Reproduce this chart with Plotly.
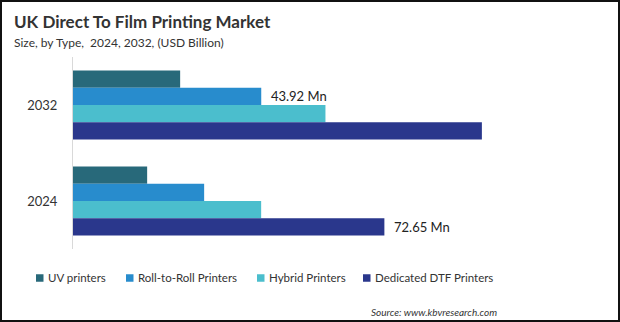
import plotly.graph_objects as go

categories = ["2032", "2024"]
series_names = ["UV printers", "Roll-to-Roll Printers", "Hybrid Printers", "Dedicated DTF Printers"]
uv_values = [25.0, 17.3]
r2r_values = [43.92, 30.6]
hybrid_values = [58.9, 43.9]
dtf_values = [95.4, 72.65]
colors = ["#28697a", "#288ccd", "#4bbecd", "#2a378c"]
# which bars carry a value label: (series index, category index)
labelled = {(1, 0), (3, 1)}

all_values = [uv_values, r2r_values, hybrid_values, dtf_values]

W, H = 620, 322
ML, MR, MT, MB = 73, 0, 57, 73
PW, PH = W - ML - MR, H - MT - MB

def px_x(p):
    return (p - ML) / PW

def px_y(p):
    return (H - MB - p) / PH

FONT = "Lato, 'Open Sans', sans-serif"

fig = go.Figure()
for i, (name, vals) in enumerate(zip(series_names, all_values)):
    texts = ["\u00a0\u00a0" + f"{v:.2f} Mn" if (i, j) in labelled else "" for j, v in enumerate(vals)]
    fig.add_trace(go.Bar(
        y=categories, x=vals, name=name, orientation="h",
        marker=dict(color=colors[i], line=dict(width=0)),
        text=texts, textposition="outside", cliponaxis=False,
        textfont=dict(family=FONT, size=13, color="#222222"),
        hoverinfo="skip", showlegend=False,
    ))

annotations = [
    dict(text="<b>UK Direct To Film Printing Market</b>", xref="paper", yref="paper",
         x=px_x(12), y=px_y(22), xanchor="left", yanchor="middle", showarrow=False,
         font=dict(family=FONT, size=17, color="#333333")),
    dict(text="Size, by Type,  2024, 2032, (USD Billion)", xref="paper", yref="paper",
         x=px_x(12), y=px_y(42), xanchor="left", yanchor="middle", showarrow=False,
         font=dict(family=FONT, size=12, color="#333333")),
    dict(text="<i>Source: www.kbvresearch.com</i>", xref="paper", yref="paper",
         x=px_x(499), y=px_y(312), xanchor="right", yanchor="middle", showarrow=False,
         font=dict(family=FONT, size=10, color="#333333")),
]
shapes = [dict(type="rect", xref="paper", yref="paper",
               x0=px_x(1), x1=px_x(W - 1), y0=px_y(H - 1), y1=px_y(1),
               line=dict(color="#111111", width=2), fillcolor="rgba(0,0,0,0)", layer="above")]

# legend (layout positions in pixels)
legend_square_px = [36, 126, 257, 363]
LEG_Y = 278
for name, col, sx in zip(series_names, colors, legend_square_px):
    shapes.append(dict(type="rect", xref="paper", yref="paper",
                       x0=px_x(sx), x1=px_x(sx + 7.5), y0=px_y(LEG_Y + 3.75), y1=px_y(LEG_Y - 3.75),
                       line=dict(width=0), fillcolor=col))
    annotations.append(dict(text=name, xref="paper", yref="paper",
                            x=px_x(sx + 10), y=px_y(LEG_Y - 0.5), xanchor="left", yanchor="middle",
                            showarrow=False, font=dict(family=FONT, size=11.5, color="#333333")))

fig.update_layout(
    width=W, height=H,
    margin=dict(l=ML, r=MR, t=MT, b=MB),
    paper_bgcolor="white", plot_bgcolor="white",
    barmode="group", bargap=0.28, bargroupgap=0,
    showlegend=False,
    xaxis=dict(range=[0, PW / 4.286], showgrid=False, zeroline=False, showticklabels=False,
               showline=False, fixedrange=True),
    yaxis=dict(autorange="reversed", showgrid=False, zeroline=False, showline=True,
               linecolor="#d9d9d9", linewidth=1, ticks="", ticklabelstandoff=12,
               tickfont=dict(family=FONT, size=13, color="#333333"), fixedrange=True),
    font=dict(family=FONT),
    annotations=annotations,
    shapes=shapes,
)

fig.write_html("out.html", config={"displayModeBar": False})
